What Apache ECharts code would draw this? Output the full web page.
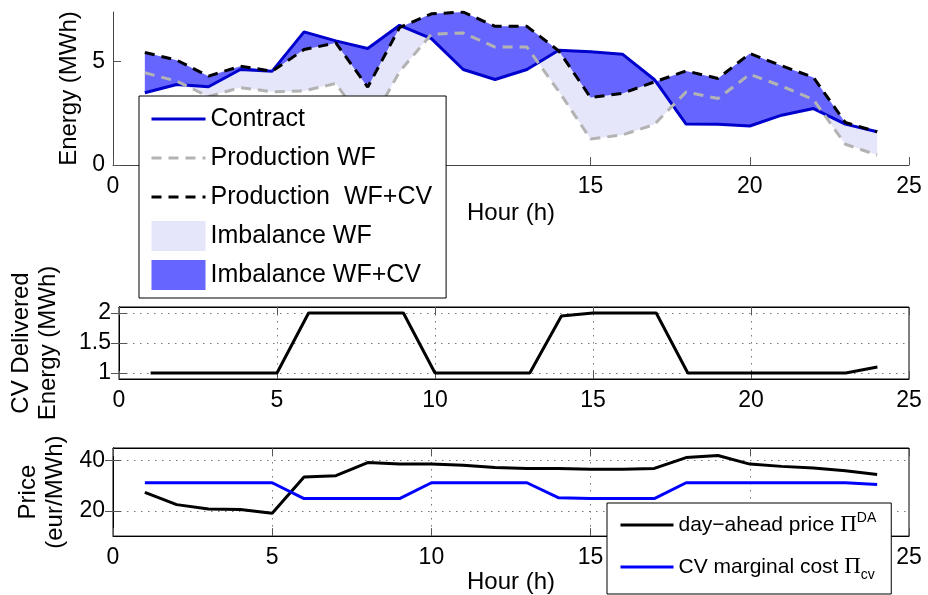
<!DOCTYPE html>
<html><head><meta charset="utf-8">
<script src="https://cdn.jsdelivr.net/npm/echarts@6/dist/echarts.min.js"></script>
<style>html,body{margin:0;padding:0;background:#fff}#c{width:928px;height:595px}</style>
</head><body><div id="c"></div><script>
// ---- data ----
const hours = [1,2,3,4,5,6,7,8,9,10,11,12,13,14,15,16,17,18,19,20,21,22,23,24];
const contract = [3.48,3.88,3.77,4.6,4.52,6.41,5.98,5.61,6.73,6.09,4.6,4.12,4.6,5.53,5.45,5.34,4.12,1.97,1.96,1.88,2.4,2.72,1.97,1.6];
const prodWF   = [4.44,4.04,3.3,3.73,3.53,3.57,3.93,1.75,4.5,6.3,6.36,5.68,5.68,3.55,1.25,1.45,1.95,3.52,3.2,4.37,3.8,3.15,1.0,0.48];
const prodWFCV = [5.42,5.05,4.28,4.76,4.52,5.56,5.88,3.75,6.62,7.28,7.37,6.68,6.68,5.5,3.25,3.45,4.0,4.53,4.17,5.37,4.78,4.22,2.05,1.6];
const cvEnergy = [1,1,1,1,1,2,2,2,2,1,1,1,1,1.95,2,2,2,1,1,1,1,1,1,1.1];
const daPrice  = [27.4,22.5,20.8,20.6,19.1,33.5,34.0,39.2,38.6,38.6,38.1,37.3,36.9,36.9,36.6,36.6,36.9,41.2,42.0,38.6,37.7,37.1,36.0,34.5];
const cvCost   = [31.2,31.2,31.2,31.2,31.2,24.9,24.9,24.9,24.9,31.2,31.2,31.2,31.2,25.2,24.9,24.9,24.9,31.2,31.2,31.2,31.2,31.2,31.2,30.5];
const yTicksTop = [0,5];
const yTicksMid = [1,1.5,2];
const yTicksBot = [20,40];

// ---- chart ----
const F = 'Liberation Sans';
const chart = echarts.init(document.getElementById('c'), null, {renderer:'canvas'});
const pairs = a => hours.map((h,i)=>[h,a[i]]);
const dotted = {show:true, lineStyle:{color:'#777', width:1, type:[1.5,5.5]}};
const lbl = {fontSize:23, color:'#000', fontFamily:F};
const tick = {show:true, inside:true, length:8, lineStyle:{color:'#555', width:1}};
const noSym = {itemStyle:{opacity:0}};

function band(name, upper, lower, color, z){
  return {type:'custom', name, xAxisIndex:0, yAxisIndex:0, z, silent:true,
    itemStyle:{color},
    data:[[1,0]],
    renderItem:(params, api)=>{
      const pts=[];
      for(let i=0;i<hours.length;i++) pts.push(api.coord([hours[i], upper[i]]));
      for(let i=hours.length-1;i>=0;i--) pts.push(api.coord([hours[i], lower[i]]));
      return {type:'polygon', shape:{points:pts}, style:{fill:color, stroke:null}};
    }};
}

function xAx(gi, extra){
  return Object.assign({gridIndex:gi, type:'value', min:0, max:25, interval:5,
    axisLine:{show:true, onZero:false, lineStyle:{color:'#000', width:1}},
    axisTick:tick, axisLabel:Object.assign({margin:10}, lbl), splitLine:{show:false}}, extra||{});
}

const option = {
  animation:false,
  backgroundColor:'#fff',
  textStyle:{fontFamily:F},
  grid:[
    {left:113, right:19, top:12, height:153},
    {left:113, right:19, top:307, height:72, show:true, borderColor:'#000', borderWidth:1},
    {left:113, right:19, top:448, height:90, show:true, borderColor:'#000', borderWidth:1}
  ],
  xAxis:[
    xAx(0, {axisLine:{show:true, onZero:false, lineStyle:{color:'#444'}},
      name:'Hour (h)', nameLocation:'middle', nameGap:36, nameTextStyle:{fontSize:24, color:'#000', fontFamily:F}}),
    xAx(1, {splitLine:dotted}),
    xAx(1, {position:'top', axisLabel:{show:false}}),
    xAx(2, {splitLine:dotted, name:'Hour (h)', nameLocation:'middle', nameGap:28, nameTextStyle:{fontSize:24, color:'#000', fontFamily:F}}),
    xAx(2, {position:'top', axisLabel:{show:false}})
  ],
  yAxis:[
    {gridIndex:0, type:'value', min:0, max:7.37,
      axisLine:{show:true, lineStyle:{color:'#444'}},
      axisTick:Object.assign({customValues:yTicksTop}, tick),
      axisLabel:Object.assign({customValues:yTicksTop, margin:8}, lbl),
      splitLine:{show:false},
      name:'Energy (MWh)', nameLocation:'middle', nameGap:25, nameTextStyle:{fontSize:24, color:'#000', fontFamily:F}},
    {gridIndex:1, type:'value', min:0.9, max:2.1,
      axisLine:{show:true, lineStyle:{color:'#000'}},
      axisTick:Object.assign({customValues:yTicksMid}, tick),
      axisLabel:Object.assign({customValues:yTicksMid, margin:8}, lbl),
      splitLine:dotted,
      name:'CV Delivered\nEnergy (MWh)', nameLocation:'middle', nameGap:57, nameTextStyle:{fontSize:24, lineHeight:27, color:'#000', fontFamily:F}},
    {gridIndex:1, type:'value', min:0.9, max:2.1, position:'right',
      axisLine:{show:true, lineStyle:{color:'#000'}},
      axisTick:Object.assign({customValues:yTicksMid}, tick),
      axisLabel:{show:false}, splitLine:{show:false}},
    {gridIndex:2, type:'value', min:10, max:45,
      axisLine:{show:true, lineStyle:{color:'#000'}},
      axisTick:Object.assign({customValues:yTicksBot}, tick),
      axisLabel:Object.assign({customValues:yTicksBot, margin:8}, lbl),
      splitLine:dotted,
      name:'Price\n(eur/MWh)', nameLocation:'middle', nameGap:43, nameTextStyle:{fontSize:24, lineHeight:27, color:'#000', fontFamily:F}},
    {gridIndex:2, type:'value', min:10, max:45, position:'right',
      axisLine:{show:true, lineStyle:{color:'#000'}},
      axisTick:Object.assign({customValues:yTicksBot}, tick),
      axisLabel:{show:false}, splitLine:{show:false}}
  ],
  legend:[
    {z:20, left:139, top:96, orient:'vertical', itemWidth:54, itemHeight:30, itemGap:9,
      padding:[8,14,8,11], borderColor:'#000', borderWidth:1, backgroundColor:'#fff', selectedMode:false,
      lineStyle:{width:3},
      textStyle:{fontSize:25, lineHeight:30, color:'#000', fontFamily:F},
      data:[Object.assign({name:'Contract'}, noSym), Object.assign({name:'Production WF'}, noSym),
        Object.assign({name:'Production  WF+CV'}, noSym),
        {name:'Imbalance WF', icon:'rect'},{name:'Imbalance WF+CV', icon:'rect'}]},
    {z:20, left:607, top:503, orient:'vertical', itemWidth:53, itemHeight:20, itemGap:19,
      padding:[8,15,12,12], borderColor:'#000', borderWidth:1, backgroundColor:'#fff', selectedMode:false,
      lineStyle:{width:3},
      textStyle:{fontSize:21, color:'#000', fontFamily:F,
        rich:{t:{fontSize:21, fontFamily:F}, p:{fontSize:23, fontFamily:'Liberation Serif'},
          sup:{fontSize:14, fontFamily:F, padding:[0,0,14,0]}, sub:{fontSize:14, fontFamily:F, padding:[16,0,0,0]}}},
      formatter: n => n==='day−ahead price' ? '{t|day−ahead price }{p|Π}{sup|DA}' : '{t|CV marginal cost }{p|Π}{sub|cv}',
      data:[Object.assign({name:'day−ahead price'}, noSym), Object.assign({name:'CV marginal cost'}, noSym)]}
  ],
  series:[
    band('Imbalance WF', contract, prodWF, '#e6e6fa', 1),
    band('Imbalance WF+CV', contract, prodWFCV, '#6666ff', 2),
    {type:'line', name:'Contract', xAxisIndex:0, yAxisIndex:0, z:3, symbol:'none', data:pairs(contract),
      lineStyle:{color:'#0000cc', width:3}, itemStyle:{color:'#0000cc'}},
    {type:'line', name:'Production WF', xAxisIndex:0, yAxisIndex:0, z:4, symbol:'none', data:pairs(prodWF),
      lineStyle:{color:'#b3b3b3', width:3, type:[10,7]}, itemStyle:{color:'#b3b3b3'}},
    {type:'line', name:'Production  WF+CV', xAxisIndex:0, yAxisIndex:0, z:5, symbol:'none', data:pairs(prodWFCV),
      lineStyle:{color:'#000', width:3, type:[10,7]}, itemStyle:{color:'#000'}},
    {type:'line', name:'CV energy', xAxisIndex:1, yAxisIndex:1, symbol:'none', data:pairs(cvEnergy),
      lineStyle:{color:'#000', width:3}, itemStyle:{color:'#000'}},
    {type:'line', name:'day−ahead price', xAxisIndex:3, yAxisIndex:3, symbol:'none', data:pairs(daPrice),
      lineStyle:{color:'#000', width:3}, itemStyle:{color:'#000'}},
    {type:'line', name:'CV marginal cost', xAxisIndex:3, yAxisIndex:3, symbol:'none', data:pairs(cvCost),
      lineStyle:{color:'#0000ff', width:3}, itemStyle:{color:'#0000ff'}}
  ]
};
chart.setOption(option);
</script></body></html>
